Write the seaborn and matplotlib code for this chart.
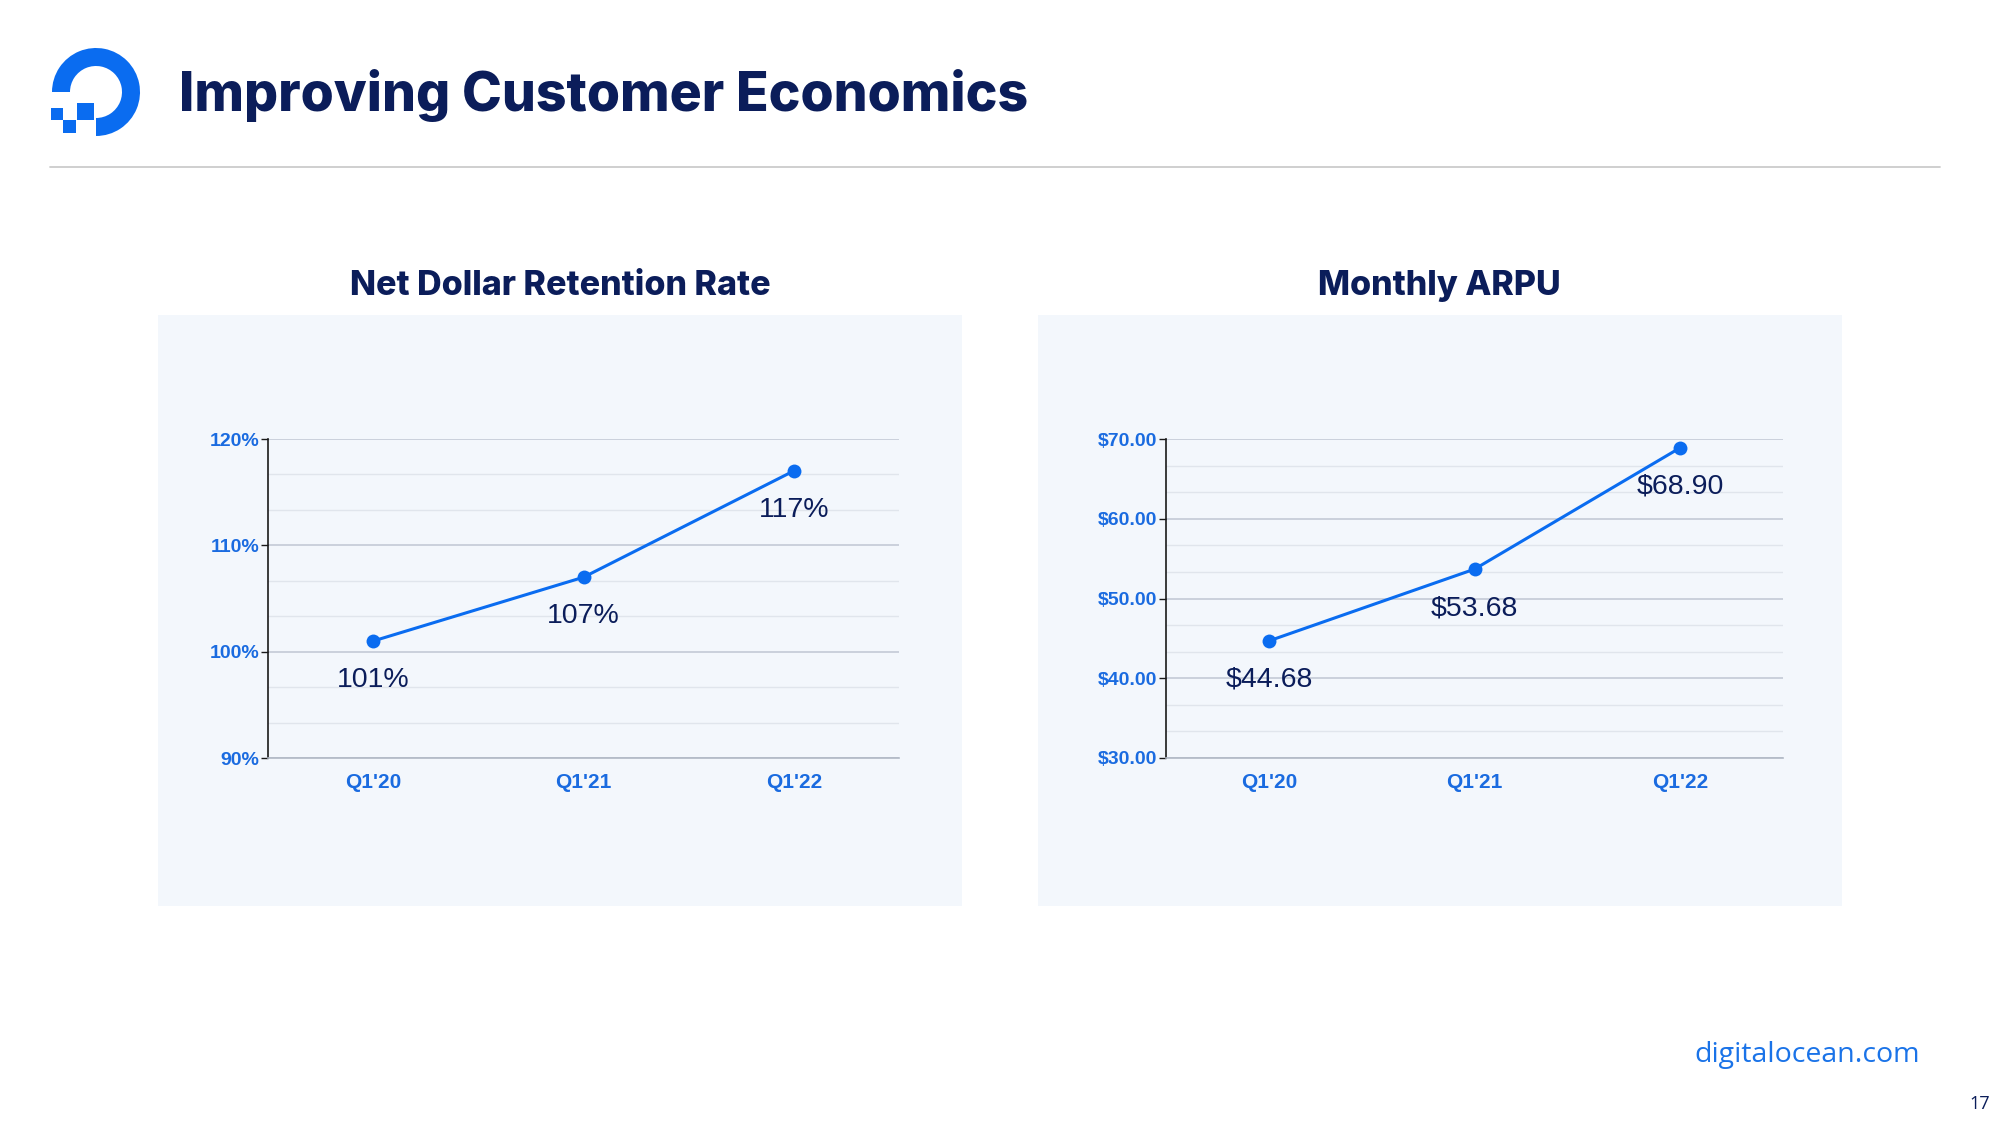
import matplotlib.pyplot as plt
import matplotlib.patches as mpatches
import pandas as pd
import seaborn as sns

# Data
quarters = ["Q1'20", "Q1'21", "Q1'22"]
ndr_values = [101, 107, 117]
arpu_values = [44.68, 53.68, 68.90]
ndr_labels = ['101%', '107%', '117%']
arpu_labels = ['$44.68', '$53.68', '$68.90']
ndr_ticks = [90, 100, 110, 120]
arpu_ticks = [30, 40, 50, 60, 70]

NAVY = '#0b1d5a'
BLUE = '#0a6cf0'
TICK_BLUE = '#1a6be0'
PANEL = '#f3f7fc'

sns.set_theme(style='white')
plt.rcParams['font.family'] = ['Liberation Sans', 'DejaVu Sans']

fig = plt.figure(figsize=(20, 11.25), dpi=100)
W, H = 2000, 1125


def px_rect(x0, y0, x1, y1):
    # convert pixel box (top-left origin) to figure fraction
    return [x0 / W, 1 - y1 / H, (x1 - x0) / W, (y1 - y0) / H]


# grey panels behind both charts
for x0, x1 in [(158, 962), (1038, 1842)]:
    b = px_rect(x0, 315, x1, 906)
    fig.patches.append(mpatches.Rectangle((b[0], b[1]), b[2], b[3],
                                          transform=fig.transFigure,
                                          facecolor=PANEL, edgecolor='none', zorder=-5))

# header: logo, title, rule
logo = fig.add_axes(px_rect(40, 40, 146, 146))
logo.set_xlim(0, 106)
logo.set_ylim(106, 0)
logo.set_aspect('equal')
logo.axis('off')
logo.add_patch(mpatches.Wedge((56, 52), 44, -180, 90, width=18, facecolor=BLUE, edgecolor='none'))
logo.add_patch(mpatches.Rectangle((37, 63), 17, 17, facecolor=BLUE, edgecolor='none'))
logo.add_patch(mpatches.Rectangle((23, 80), 13, 13, facecolor=BLUE, edgecolor='none'))
logo.add_patch(mpatches.Rectangle((11, 68), 12, 12, facecolor=BLUE, edgecolor='none'))

fig.text(179 / W, 1 - 95 / H, 'Improving Customer Economics', fontsize=38.6,
         fontweight='heavy', color=NAVY, ha='left', va='center', family=['Inter', 'DejaVu Sans'])
fig.add_artist(plt.Line2D([50 / W, 1940 / W], [1 - 167 / H, 1 - 167 / H],
                          transform=fig.transFigure, color='#cccccc', lw=1.3))

fig.text(1920 / W, 1 - 1055 / H, 'digitalocean.com', fontsize=20.5, color='#1a73e8',
         ha='right', va='center', family=['Open Sans', 'DejaVu Sans'])
fig.text(1990 / W, 1 - 1104 / H, '17', fontsize=13, color=NAVY,
         ha='right', va='center', family=['Open Sans', 'DejaVu Sans'])


def draw_panel(box, title, title_x, values, labels, ticks, tick_fmt):
    ax = fig.add_axes(px_rect(*box))
    ax.set_facecolor('none')
    df = pd.DataFrame({'quarter': quarters, 'value': values})
    sns.lineplot(data=df, x='quarter', y='value', ax=ax, color=BLUE, lw=2.2,
                 marker='o', markersize=10, markeredgewidth=0, zorder=3)
    ax.set_xlim(-0.5, 2.5)
    lo, hi = ticks[0], ticks[-1]
    ax.set_ylim(lo, hi)
    ax.set_yticks(ticks)
    ax.set_yticklabels([tick_fmt(t) for t in ticks])
    step = ticks[1] - ticks[0]
    minor = [t + step * k / 3 for t in ticks[:-1] for k in (1, 2)]
    ax.set_yticks(minor, minor=True)
    ax.grid(axis='y', which='major', color='#c3cad6', lw=1.2)
    ax.grid(axis='y', which='minor', color='#e0e5ec', lw=1.0)
    ax.set_axisbelow(True)
    for s in ['top', 'right']:
        ax.spines[s].set_visible(False)
    ax.spines['left'].set_color('#1a1a1a')
    ax.spines['left'].set_linewidth(1.2)
    ax.spines['bottom'].set_color('#b0b8c4')
    ax.spines['bottom'].set_linewidth(1.2)
    ax.tick_params(axis='y', which='major', left=True, length=5, width=1, color='#1a1a1a',
                   labelsize=14, labelcolor=TICK_BLUE, pad=1)
    ax.tick_params(axis='y', which='minor', left=False)
    ax.tick_params(axis='x', bottom=False, labelsize=15, labelcolor=TICK_BLUE, pad=5)
    for lbl in ax.get_xticklabels() + ax.get_yticklabels():
        lbl.set_fontweight('bold')
    ax.set_xlabel('')
    ax.set_ylabel('')
    for i, (v, t) in enumerate(zip(values, labels)):
        ax.annotate(t, (i, v), xytext=(0, -28), textcoords='offset points',
                    ha='center', va='center', fontsize=20.5, color=NAVY)
    fig.text(title_x / W, 1 - 286 / H, title, fontsize=24.5, fontweight='heavy',
             color=NAVY, ha='center', va='center', family=['Inter', 'DejaVu Sans'])
    return ax


draw_panel((268, 439, 899, 758), 'Net Dollar Retention Rate', 560,
           ndr_values, ndr_labels, ndr_ticks, lambda t: f'{t}%')
draw_panel((1166, 439, 1783, 758), 'Monthly ARPU', 1439,
           arpu_values, arpu_labels, arpu_ticks, lambda t: f'${t:.2f}')

fig.savefig('out.png', dpi=100)
